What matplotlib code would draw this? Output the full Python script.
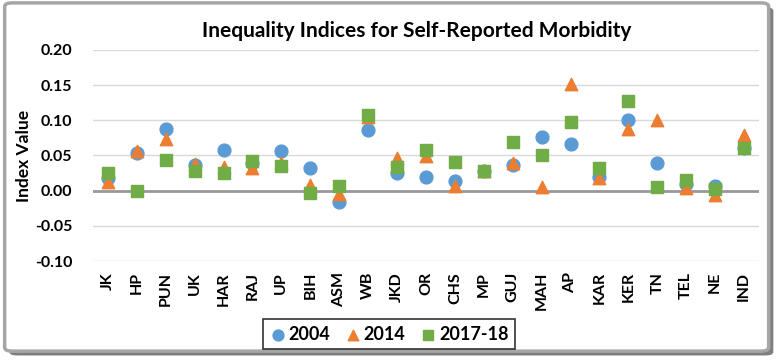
import numpy as np
import matplotlib.pyplot as plt
from matplotlib.patches import FancyBboxPatch

plt.rcParams['font.family'] = ['Lato', 'DejaVu Sans']

states = ['JK', 'HP', 'PUN', 'UK', 'HAR', 'RAJ', 'UP', 'BIH', 'ASM', 'WB', 'JKD', 'OR',
          'CHS', 'MP', 'GUJ', 'MAH', 'AP', 'KAR', 'KER', 'TN', 'TEL', 'NE', 'IND']
y2004 = [0.018, 0.053, 0.088, 0.036, 0.058, 0.040, 0.056, 0.032, -0.016, 0.086, 0.025, 0.020,
         0.014, 0.028, 0.037, 0.076, 0.066, 0.020, 0.100, 0.039, 0.010, 0.007, 0.060]
y2014 = [0.012, 0.057, 0.073, 0.038, 0.033, 0.032, 0.040, 0.008, -0.005, 0.105, 0.046, 0.049,
         0.007, 0.028, 0.039, 0.005, 0.151, 0.018, 0.088, 0.101, 0.004, -0.006, 0.079]
y2017 = [0.025, 0.000, 0.044, 0.028, 0.025, 0.042, 0.035, -0.003, 0.007, 0.108, 0.034, 0.058,
         0.041, 0.028, 0.069, 0.050, 0.097, 0.032, 0.127, 0.005, 0.015, 0.002, 0.060]
yticks = [-0.10, -0.05, 0.00, 0.05, 0.10, 0.15, 0.20]

fig = plt.figure(figsize=(7.78, 3.62), dpi=100)

# outer frame with shadow
shadow = FancyBboxPatch((0.012, 0.018), 0.982, 0.962, boxstyle='round,pad=0,rounding_size=0.01',
                        transform=fig.transFigure, facecolor='#7f7f7f', edgecolor='none', zorder=-2)
frame = FancyBboxPatch((0.006, 0.03), 0.982, 0.962, boxstyle='round,pad=0,rounding_size=0.01',
                       transform=fig.transFigure, facecolor='white', edgecolor='#a6a6a6',
                       linewidth=2.5, zorder=-1)
fig.patches.extend([shadow, frame])

ax = fig.add_axes([0.12, 0.279, 0.855, 0.583])
ax.set_zorder(1)
ax.set_facecolor('none')
x = np.arange(len(states))
ax.scatter(x, y2004, marker='o', s=85, color='#5B9BD5', label='2004', zorder=3)
ax.scatter(x, y2014, marker='^', s=80, color='#ED7D31', label='2014', zorder=4)
ax.scatter(x, y2017, marker='s', s=78, color='#70AD47', label='2017-18', zorder=5)

ax.set_xlim(-0.5, len(states) - 0.5)
ax.set_ylim(-0.10, 0.20)
ax.set_yticks(yticks)
ax.set_yticklabels(['%.2f' % v for v in yticks], fontweight='bold', fontsize=11.5)
ax.set_xticks(x)
ax.set_xticklabels(states, rotation=90, fontweight='bold', fontsize=11.5)
ax.tick_params(length=0)
ax.tick_params(axis='y', pad=15)
ax.tick_params(axis='x', pad=8)
ax.grid(axis='y', color='#d9d9d9', linewidth=1)
ax.axhline(0, color='#999999', linewidth=2, zorder=2)
for s in ax.spines.values():
    s.set_visible(False)
ax.set_ylabel('Index Value', fontweight='bold', fontsize=12.5, labelpad=2)

fig.text(0.535, 0.915, 'Inequality Indices for Self-Reported Morbidity', ha='center', va='center',
         fontweight='bold', fontsize=15)

leg = fig.legend(loc='center', bbox_to_anchor=(0.5, 0.077), ncol=3, frameon=True, fancybox=False,
                 prop={'weight': 'bold', 'size': 13}, handletextpad=0.15, columnspacing=0.8,
                 borderpad=0.35, markerscale=0.85, handlelength=0.9)
leg.set_zorder(2)
leg.get_frame().set_edgecolor('black')
leg.get_frame().set_linewidth(1.2)

fig.savefig('out.png', dpi=100)
